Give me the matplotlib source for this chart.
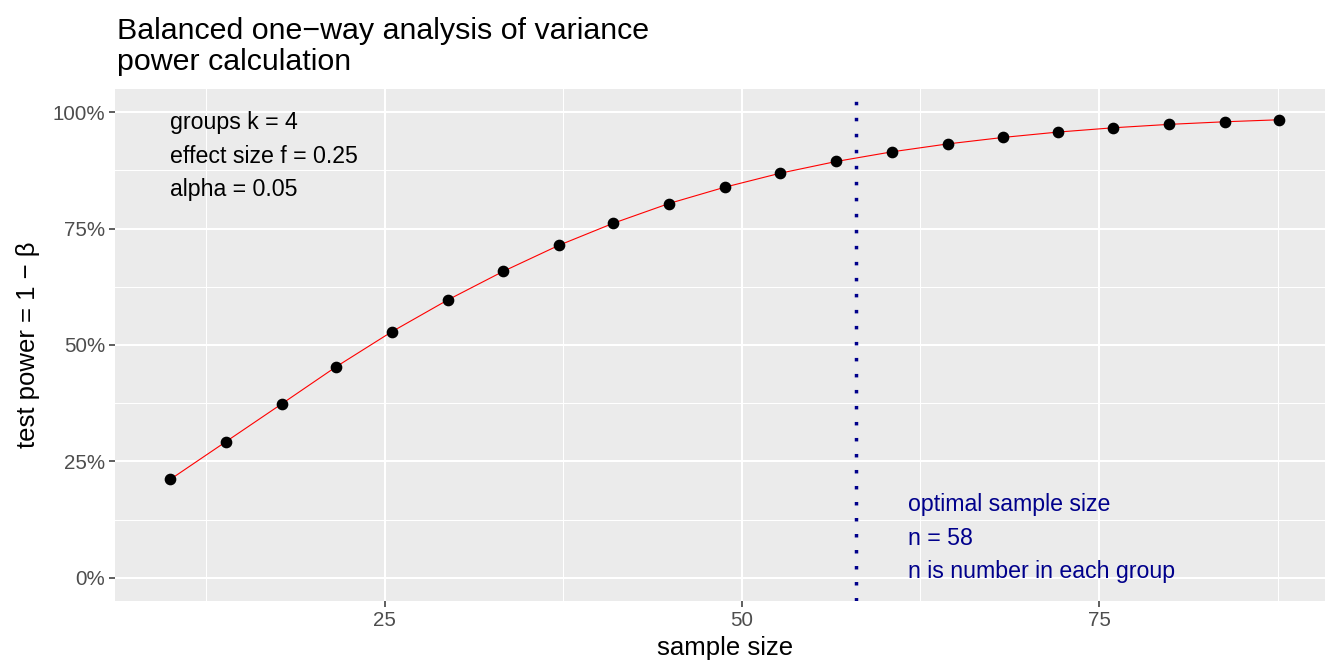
import matplotlib
matplotlib.use("Agg")
import matplotlib.pyplot as plt
from matplotlib.ticker import FixedLocator, FixedFormatter

# Power of a balanced one-way ANOVA as a function of per-group sample size
sample_size = [10.0, 13.9, 17.8, 21.6, 25.5, 29.4, 33.3, 37.2, 41.0, 44.9, 48.8,
               52.7, 56.6, 60.5, 64.4, 68.3, 72.1, 76.0, 79.9, 83.8, 87.6]
power = [0.2115, 0.2926, 0.3737, 0.4533, 0.5286, 0.5966, 0.6583, 0.7143, 0.7616,
         0.8040, 0.8390, 0.8692, 0.8943, 0.9150, 0.9320, 0.9460, 0.9574, 0.9667,
         0.9740, 0.9796, 0.9839]

optimal_n = 58
groups_k = 4
effect_f = 0.25
alpha = 0.05

x_ticks = [25, 50, 75]
x_minor = [12.5, 37.5, 62.5, 87.5]
y_ticks = [0.0, 0.25, 0.50, 0.75, 1.0]
y_minor = [0.125, 0.375, 0.625, 0.875]
y_tick_labels = ["0%", "25%", "50%", "75%", "100%"]

plt.rcParams["font.family"] = ["Liberation Sans", "DejaVu Sans"]

W, H = 1325, 660
fig = plt.figure(figsize=(W / 100, H / 100), dpi=100)

# panel placement in pixels
left, right, top, bottom = 115, 1334.5, 89, 601
ax = fig.add_axes([left / W, (H - bottom) / H, (right - left) / W, (bottom - top) / H])
ax.set_facecolor("#EBEBEB")
for s in ax.spines.values():
    s.set_visible(False)

ax.set_xlim(6.12, 91.48)
ax.set_ylim(-0.05, 1.05)

ax.xaxis.set_major_locator(FixedLocator(x_ticks))
ax.xaxis.set_minor_locator(FixedLocator(x_minor))
ax.yaxis.set_major_locator(FixedLocator(y_ticks))
ax.yaxis.set_minor_locator(FixedLocator(y_minor))
ax.yaxis.set_major_formatter(FixedFormatter(y_tick_labels))

ax.grid(which="major", color="white", linewidth=1.45)
ax.grid(which="minor", color="white", linewidth=0.72)
ax.set_axisbelow(True)
ax.tick_params(which="major", length=4.2, width=1.1, color="#333333",
               labelsize=14.8, labelcolor="#4D4D4D", pad=3)
ax.tick_params(which="minor", length=0)

ax.axvline(optimal_n, color="#00008B", linewidth=2.5,
           linestyle=(0, (1, 3.61)), dash_capstyle="butt", zorder=2)
ax.plot(sample_size, power, color="red", linewidth=0.8, zorder=3)
ax.plot(sample_size, power, linestyle="none", marker="o", markersize=7.4,
        color="black", zorder=4)

# parameter annotations
info_lines = [f"groups k = {groups_k}", f"effect size f = {effect_f}", f"alpha = {alpha}"]
info_y = [0.9632, 0.8914, 0.8197]
for txt, yy in zip(info_lines, info_y):
    ax.text(10.0, yy, txt, fontsize=16.7, color="black", ha="left", va="baseline")

note_lines = ["optimal sample size", f"n = {optimal_n}", "n is number in each group"]
note_y = [0.1426, 0.0710, 0.0]
for txt, yy in zip(note_lines, note_y):
    ax.text(61.6, yy, txt, fontsize=16.7, color="#00008B", ha="left", va="baseline")

ax.set_xlabel("sample size", fontsize=18.5, color="black", labelpad=4)
ax.set_ylabel("test power = 1 \u2212 \u03b2", fontsize=18.5, color="black", labelpad=9)

fig.text(left / W + 0.0015, 1 - 70.5 / H,
         "Balanced one\u2212way analysis of variance\npower calculation",
         fontsize=21.9, color="black", ha="left", va="baseline", linespacing=1.175)

fig.savefig("out.png", dpi=100)
